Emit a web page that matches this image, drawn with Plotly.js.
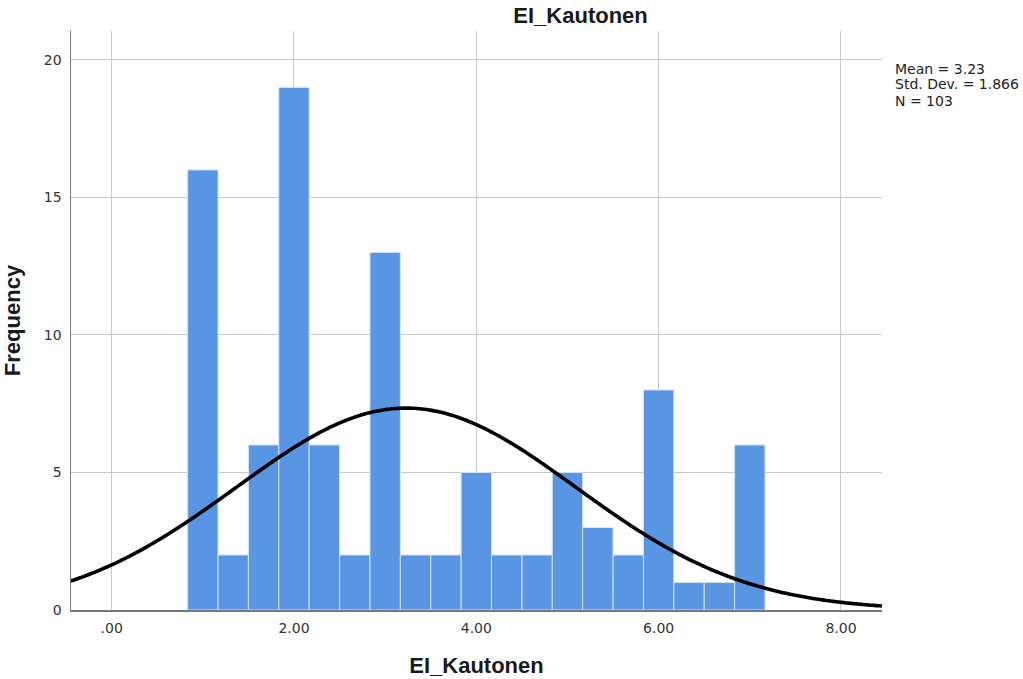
<!DOCTYPE html>
<html>
<head>
<meta charset="utf-8">
<script src="https://cdn.plot.ly/plotly-3.0.1.min.js"></script>
<style>
  html, body { margin: 0; padding: 0; background: #fff; }
  #chart { width: 1023px; height: 679px; }
</style>
</head>
<body>
<div id="chart"></div>
<script>
// Histogram bins of EI_Kautonen (bin centres, width 1/3)
const binCenters = [1.0, 1.333, 1.667, 2.0, 2.333, 2.667, 3.0, 3.333, 3.667, 4.0,
                    4.333, 4.667, 5.0, 5.333, 5.667, 6.0, 6.333, 6.667, 7.0];
const frequencies = [16, 2, 6, 19, 6, 2, 13, 2, 2, 5, 2, 2, 5, 3, 2, 8, 1, 1, 6];
const binWidth = 1 / 3;

// Summary statistics shown beside the plot
const mean = 3.23;
const stdDev = 1.866;
const n = 103;

const xTickVals = [0, 2, 4, 6, 8];
const xTickText = ['.00', '2.00', '4.00', '6.00', '8.00'];
const yTickVals = [0, 5, 10, 15, 20];

// Normal curve scaled to counts: N * binWidth * pdf(x)
const curveX = [];
const curveY = [];
for (let i = 0; i <= 300; i++) {
  const x = -0.45 + i * (8.9 / 300);
  const z = (x - mean) / stdDev;
  curveX.push(x);
  curveY.push(n * binWidth * Math.exp(-0.5 * z * z) / (stdDev * Math.sqrt(2 * Math.PI)));
}

const bars = {
  type: 'bar',
  x: binCenters,
  y: frequencies,
  width: binWidth,
  marker: { color: '#5896E4', line: { color: '#D2E2F7', width: 1 } },
  hoverinfo: 'x+y'
};

const curve = {
  type: 'scatter',
  mode: 'lines',
  x: curveX,
  y: curveY,
  line: { color: '#000', width: 3.6, shape: 'spline' },
  hoverinfo: 'skip'
};

const boldFont = 'Liberation Sans, Arial, sans-serif';
const textFont = 'DejaVu Sans, sans-serif';

// Stats block, one line per annotation for tight line spacing
const statLines = [
  'Mean = ' + mean.toFixed(2),
  'Std. Dev. = ' + stdDev.toFixed(3),
  'N = ' + n
];
const statCenters = [68.5, 84.5, 100.5]; // pixel rows
const plotTop = 31, plotBottom = 610;
const statAnnotations = statLines.map((t, i) => ({
  xref: 'paper', yref: 'paper',
  x: 1.0135,
  y: (plotBottom - statCenters[i]) / (plotBottom - plotTop),
  xanchor: 'left', yanchor: 'middle',
  align: 'left',
  showarrow: false,
  text: t,
  font: { family: textFont, size: 14, color: '#222' }
}));

const layout = {
  width: 1023,
  height: 679,
  margin: { l: 71, r: 141, t: 31, b: 69 },
  paper_bgcolor: '#fff',
  plot_bgcolor: '#fff',
  showlegend: false,
  bargap: 0,
  font: { family: textFont, color: '#222', size: 14 },
  title: {
    text: '<b>EI_Kautonen</b>',
    font: { family: boldFont, size: 22, color: '#1a1a1a' },
    x: 0.5675, xanchor: 'center', y: 0.978, yanchor: 'middle'
  },
  xaxis: {
    range: [-0.446, 8.45],
    tickvals: xTickVals,
    ticktext: xTickText,
    showgrid: true,
    gridcolor: '#c8c8c8',
    gridwidth: 1,
    zeroline: false,
    showline: true,
    linecolor: '#777',
    linewidth: 1.5,
    ticks: '',
    ticklabelstandoff: 5,
    tickfont: { family: textFont, size: 14, color: '#333' },
    title: { text: '<b>EI_Kautonen</b>', font: { family: boldFont, size: 22, color: '#1a1a1a' }, standoff: 22 }
  },
  yaxis: {
    range: [0, 21.05],
    tickvals: yTickVals,
    showgrid: true,
    gridcolor: '#c8c8c8',
    gridwidth: 1,
    zeroline: false,
    showline: true,
    linecolor: '#777',
    linewidth: 1.5,
    ticks: '',
    ticklabelstandoff: 5,
    tickfont: { family: textFont, size: 14, color: '#333' },
    title: { text: '<b>Frequency</b>', font: { family: boldFont, size: 22, color: '#1a1a1a' }, standoff: 20 }
  },
  annotations: statAnnotations
};

Plotly.newPlot('chart', [bars, curve], layout, { displayModeBar: false, staticPlot: true });
</script>
</body>
</html>
